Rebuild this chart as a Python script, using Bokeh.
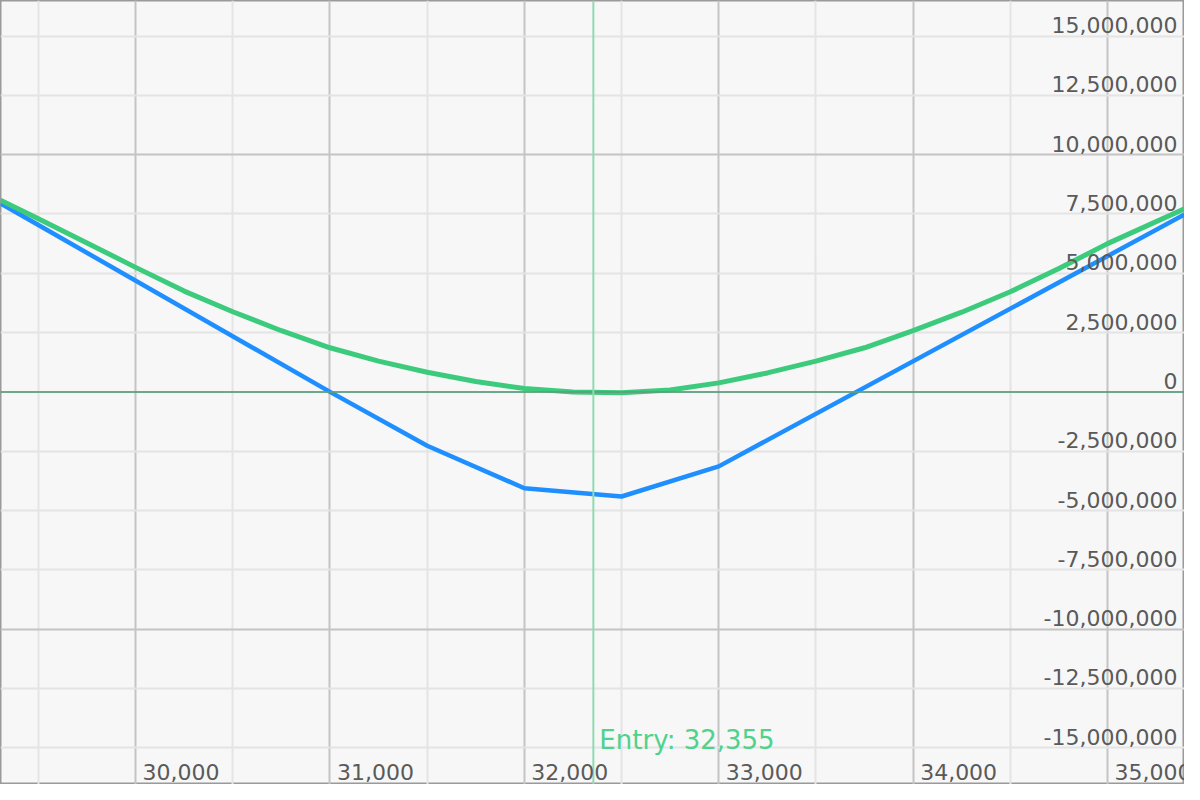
from bokeh.plotting import figure
from bokeh.models import FixedTicker, Label, Span, Range1d
from bokeh.embed import file_html
from bokeh.resources import INLINE

# ---- data ----
blue_x = [29305, 31000, 31500, 32000, 32500, 33000, 35396]
blue_y = [7.95e6, 0.0, -2.27e6, -4.06e6, -4.41e6, -3.14e6, 7.48e6]

green_x = [29305, 29500, 29750, 30000, 30250, 30500, 30750, 31000, 31250, 31500,
           31750, 32000, 32250, 32500, 32750, 33000, 33250, 33500, 33750, 34000,
           34250, 34500, 34750, 35000, 35396]
green_y = [8.08e6, 7.30e6, 6.28e6, 5.25e6, 4.25e6, 3.38e6, 2.58e6, 1.86e6, 1.30e6, 0.83e6,
           0.44e6, 0.14e6, 0.0, -0.04e6, 0.08e6, 0.38e6, 0.80e6, 1.30e6, 1.86e6, 2.58e6,
           3.36e6, 4.22e6, 5.20e6, 6.25e6, 7.72e6]

entry_price = 32355
entry_text = "Entry: 32,355"

x_ticks = [30000, 31000, 32000, 33000, 34000, 35000]
x_tick_labels = ["30,000", "31,000", "32,000", "33,000", "34,000", "35,000"]
x_minor = [29500, 30500, 31500, 32500, 33500, 34500]

y_ticks = [15e6, 12.5e6, 10e6, 7.5e6, 5e6, 2.5e6, 0, -2.5e6, -5e6, -7.5e6,
           -10e6, -12.5e6, -15e6]
y_tick_labels = ["15,000,000", "12,500,000", "10,000,000", "7,500,000", "5,000,000",
                 "2,500,000", "0", "-2,500,000", "-5,000,000", "-7,500,000",
                 "-10,000,000", "-12,500,000", "-15,000,000"]
y_major = [-10e6, 10e6]

W, H = 1184, 784
p = figure(width=W, height=H, output_backend="svg", toolbar_location=None,
           x_range=Range1d(29305, 35396), y_range=Range1d(-16.55e6, 16.5e6),
           min_border=0)
p.background_fill_color = "#f7f7f7"
p.border_fill_color = "#f7f7f7"
p.outline_line_color = "#9a9a9a"
p.outline_line_width = 2
p.xaxis.visible = False
p.yaxis.visible = False

p.xgrid.ticker = FixedTicker(ticks=x_ticks, minor_ticks=x_minor)
p.xgrid.grid_line_color = "#c4c4c4"
p.xgrid.grid_line_width = 2
p.xgrid.minor_grid_line_color = "#e4e4e4"
p.xgrid.minor_grid_line_width = 2

p.ygrid.ticker = FixedTicker(ticks=y_major, minor_ticks=[t for t in y_ticks if t not in y_major and t != 0])
p.ygrid.grid_line_color = "#c4c4c4"
p.ygrid.grid_line_width = 2
p.ygrid.minor_grid_line_color = "#e4e4e4"
p.ygrid.minor_grid_line_width = 2

zero = Span(location=0, dimension="width", line_color="#5e9e7e", line_width=2, line_alpha=0.9)
p.add_layout(zero)
entry = Span(location=entry_price, dimension="height", line_color="#8edbb0", line_width=2)
p.add_layout(entry)

p.line(blue_x, blue_y, line_color="#1f8fff", line_width=4.5, line_join="round")
p.line(green_x, green_y, line_color="#3ccb7c", line_width=5, line_join="round")

FONT = "DejaVu Sans"
for v, t in zip(y_ticks, y_tick_labels):
    p.add_layout(Label(x=W - 7, y=v, x_units="screen", y_units="data", text=t,
                       text_align="right", text_baseline="bottom", y_offset=3,
                       text_font=FONT, text_font_size="22px", text_color="#5a5a5a"))
for v, t in zip(x_ticks, x_tick_labels):
    p.add_layout(Label(x=v, y=5, x_units="data", y_units="screen", text=t,
                       text_align="left", text_baseline="bottom", x_offset=7,
                       text_font=FONT, text_font_size="22px", text_color="#5a5a5a"))
p.add_layout(Label(x=entry_price, y=30, x_units="data", y_units="screen", text=entry_text,
                   text_align="left", text_baseline="bottom", x_offset=6,
                   text_font=FONT, text_font_size="26px", text_color="#4fd28c"))

open("out.html", "w").write(file_html(p, INLINE))
